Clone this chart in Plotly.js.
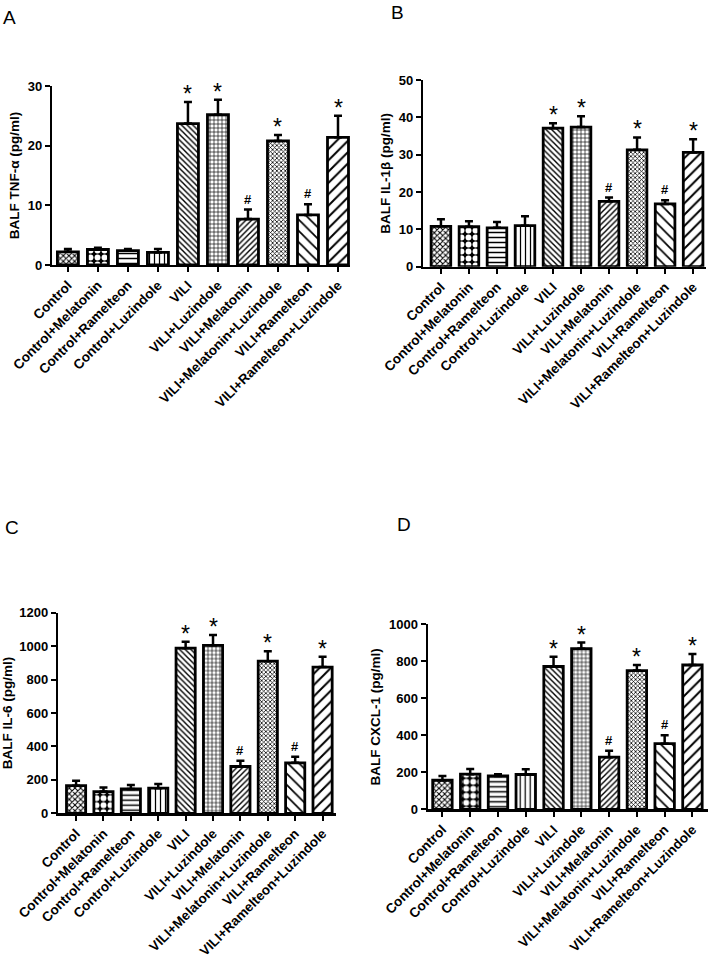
<!DOCTYPE html>
<html>
<head>
<meta charset="utf-8">
<script src="https://cdn.plot.ly/plotly-3.0.1.min.js"></script>
<style>
html,body{margin:0;padding:0;background:#fff;}
#chart{width:709px;height:972px;}
</style>
</head>
<body>
<div id="chart"></div>
<script>
const categories = ["Control","Control+Melatonin","Control+Ramelteon","Control+Luzindole","VILI","VILI+Luzindole","VILI+Melatonin","VILI+Melatonin+Luzindole","VILI+Ramelteon","VILI+Ramelteon+Luzindole"];

const tnfMean = [2.2, 2.6, 2.4, 2.1, 23.7, 25.2, 7.7, 20.8, 8.4, 21.4];
const tnfErr  = [0.5, 0.3, 0.3, 0.6, 3.6, 2.5, 1.6, 1.0, 1.8, 3.6];

const il1Mean = [10.8, 10.7, 10.4, 11.0, 37.1, 37.4, 17.5, 31.3, 16.8, 30.6];
const il1Err  = [1.9, 1.5, 1.6, 2.5, 1.3, 2.9, 1.0, 3.3, 1.0, 3.5];

const il6Mean = [165, 130, 146, 150, 988, 1005, 280, 910, 302, 875];
const il6Err  = [30, 24, 24, 26, 38, 62, 34, 60, 36, 62];

const cxclMean = [157, 190, 180, 188, 772, 868, 282, 750, 355, 780];
const cxclErr  = [23, 28, 10, 28, 52, 33, 35, 30, 45, 60];

const sigMarks = ["", "", "", "", "*", "*", "#", "*", "#", "*"];

const tnfTicks = [0, 10, 20, 30];
const il1Ticks = [0, 10, 20, 30, 40, 50];
const il6Ticks = [0, 200, 400, 600, 800, 1000, 1200];
const cxclTicks = [0, 200, 400, 600, 800, 1000];

const panelLetters = ["A", "B", "C", "D"];
const yTitles = ["BALF TNF-\u03B1 (pg/ml)", "BALF IL-1\u03B2 (pg/ml)", "BALF IL-6 (pg/ml)", "BALF CXCL-1 (pg/ml)"];

// styling (not data)
const patShapes = ["x", ".", "-", "|", "\\", "+", "/", "x", "\\", "/"];
const patSizes  = [4, 7, 5, 5, 4, 4, 4, 3, 8, 8];
const patSolid  = [0.45, 0.55, 0.3, 0.25, 0.35, 0.3, 0.35, 0.45, 0.22, 0.25];
const patFg     = ["#000", "#fff", "#000", "#000", "#000", "#000", "#000", "#000", "#000", "#000"];
const patBg     = ["#fff", "#000", "#fff", "#fff", "#fff", "#fff", "#fff", "#fff", "#fff", "#fff"];

const W = 709, H = 972;
const panels = [
  {mean: tnfMean, err: tnfErr, ticks: tnfTicks, x0: 52, x1: 350, yTop: 86, yBot: 265, xr: [-0.53, 9.4]},
  {mean: il1Mean, err: il1Err, ticks: il1Ticks, x0: 423, x1: 706, yTop: 80, yBot: 266.7, xr: [-0.64, 9.46]},
  {mean: il6Mean, err: il6Err, ticks: il6Ticks, x0: 58, x1: 336, yTop: 612.7, yBot: 813.3, xr: [-0.66, 9.49]},
  {mean: cxclMean, err: cxclErr, ticks: cxclTicks, x0: 427.7, x1: 708, yTop: 624.3, yBot: 809.3, xr: [-0.53, 9.56]}
];
const letterPos = [[9, 17], [397, 12], [12, 527], [404, 524]];

const font = {family: "Liberation Sans, Arial, sans-serif", color: "#000"};
const xIdx = categories.map((c, i) => i);
const traces = [];
const annotations = [];
const layout = {
  width: W, height: H,
  margin: {l: 0, r: 0, t: 0, b: 0},
  paper_bgcolor: "#fff", plot_bgcolor: "#fff",
  showlegend: false,
  font: font
};

panels.forEach((p, k) => {
  const n = k === 0 ? "" : String(k + 1);
  const xa = "x" + n, ya = "y" + n;
  traces.push({
    type: "bar",
    x: xIdx, y: p.mean,
    xaxis: xa, yaxis: ya,
    width: 0.7,
    marker: {
      color: "#fff",
      line: {color: "#000", width: 2.8},
      pattern: {shape: patShapes, size: patSizes, solidity: patSolid, fgcolor: patFg, bgcolor: patBg, fillmode: "replace"}
    },
    error_y: {type: "data", symmetric: false, array: p.err, arrayminus: p.err.map(() => 0), color: "#000", thickness: 2.5, width: 4},
    hoverinfo: "none"
  });
  const ymax = p.ticks[p.ticks.length - 1];
  layout["xaxis" + n] = {
    domain: [p.x0 / W, p.x1 / W],
    anchor: ya,
    range: p.xr,
    tickvals: xIdx, ticktext: categories,
    tickangle: -45,
    ticks: "outside", ticklen: 5, tickwidth: 2, tickcolor: "#000",
    showline: true, linecolor: "#000", linewidth: 2.2,
    showgrid: false, zeroline: false, fixedrange: true,
    tickfont: {family: font.family, size: 13.5, weight: "bold", color: "#000"}
  };
  layout["yaxis" + n] = {
    domain: [1 - p.yBot / H, 1 - p.yTop / H],
    anchor: xa,
    range: [0, ymax],
    tickvals: p.ticks,
    ticks: "outside", ticklen: 5, tickwidth: 2, tickcolor: "#000",
    showline: true, linecolor: "#000", linewidth: 2.2,
    showgrid: false, zeroline: false, fixedrange: true,
    tickfont: {family: font.family, size: 13, weight: "bold", color: "#000"},
    title: {text: yTitles[k], standoff: 5, font: {family: font.family, size: 13.5, weight: "bold", color: "#000"}}
  };
  p.mean.forEach((m, i) => {
    if (!sigMarks[i]) return;
    const star = sigMarks[i] === "*";
    annotations.push({
      xref: xa, yref: ya, x: i, y: m + p.err[i],
      text: sigMarks[i], showarrow: false,
      xanchor: "center", yanchor: "bottom",
      yshift: star ? -7 : 1,
      font: {family: font.family, size: star ? 23 : 13, weight: star ? "normal" : "bold", color: "#000"}
    });
  });
  annotations.push({
    xref: "paper", yref: "paper",
    x: letterPos[k][0] / W, y: 1 - letterPos[k][1] / H,
    text: panelLetters[k], showarrow: false,
    xanchor: "center", yanchor: "middle",
    font: {family: font.family, size: 19, color: "#000"}
  });
});
layout.annotations = annotations;

Plotly.newPlot("chart", traces, layout, {staticPlot: true, displayModeBar: false});
</script>
</body>
</html>
